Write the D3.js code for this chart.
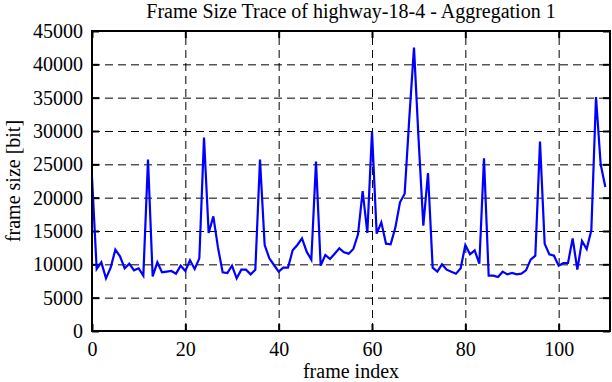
<!DOCTYPE html>
<html>
<head>
<meta charset="utf-8">
<script src="https://cdn.jsdelivr.net/npm/d3@7"></script>
<style>
  body { margin: 0; background: #fff; }
  .grid line { stroke: #000; stroke-width: 1; stroke-dasharray: 8,5; }
  .grid path { display: none; }
  .axis path { display: none; }
  .axis line { stroke: #000; stroke-width: 2; }
</style>
</head>
<body>
<div id="chart"></div>
<script>
// frame size trace, one value per frame (frame index 0..110)
var frameSizes = [
  23100, 9300, 10300, 7900, 9500, 12200, 11200, 9400, 10100, 9100,
  9400, 8300, 25700, 8200, 10300, 8800, 8900, 9000, 8600, 9800,
  9000, 10600, 9300, 10900, 29000, 14700, 17200, 12500, 8800, 8700,
  9800, 7900, 9200, 9200, 8500, 9200, 25700, 12900, 10900, 9900,
  8900, 9500, 9500, 12100, 12900, 13900, 11900, 10700, 25400, 9800,
  11400, 10800, 11600, 12400, 11800, 11600, 12300, 14500, 21000, 14700,
  29900, 14600, 16300, 13100, 13000, 15500, 19300, 20600, 32000, 42500,
  28500, 15800, 23700, 9500, 8900, 10000, 9200, 8900, 8600, 9400,
  12900, 11500, 12100, 10100, 25900, 8300, 8300, 8100, 8900, 8500,
  8700, 8500, 8600, 9100, 10700, 11300, 28400, 13100, 11500, 11300,
  9800, 10200, 10200, 13900, 9200, 13500, 12300, 15100, 35100, 25000,
  21600
];
var xTicks = [0, 20, 40, 60, 80, 100];
var yTicks = [0, 5000, 10000, 15000, 20000, 25000, 30000, 35000, 40000, 45000];

var titleText = "Frame Size Trace of highway-18-4 - Aggregation 1";
var xLabel = "frame index";
var yLabel = "frame size [bit]";

var serif = "'Liberation Serif', 'DejaVu Serif', serif";
var fontSize = "20px";

//dimensions. NB: (0,0) is top-left.
var margin = { top: 31, left: 92, right: 2, bottom: 51 };
var width = 612 - margin.left - margin.right;
var height = 382 - margin.top - margin.bottom;

var svg = d3.select("#chart")
        .append("svg")
        .attr("width", 612)
        .attr("height", 382);

var g = svg.append("g")
        .attr("transform", "translate(" + margin.left + "," + margin.top + ")");

var x = d3.scaleLinear().domain([0, 111]).range([0, width]);
var y = d3.scaleLinear().domain([0, 45000]).range([height, 0]);

//dashed grid
g.append("g")
    .attr("class", "grid")
    .attr("transform", "translate(0," + height + ")")
    .call(d3.axisBottom(x).tickValues(xTicks.slice(1)).tickSize(-height).tickFormat(""));
g.append("g")
    .attr("class", "grid")
    .call(d3.axisLeft(y).tickValues(yTicks.slice(1, -1)).tickSize(-width).tickFormat(""));

//axes with inward ticks, mirrored on top/right
g.append("g")
    .attr("class", "axis")
    .attr("transform", "translate(0," + height + ")")
    .call(d3.axisBottom(x).tickValues(xTicks).tickFormat(d3.format("d"))
            .tickSizeInner(-7).tickSizeOuter(0).tickPadding(11))
    .selectAll("text")
    .style("font-family", serif)
    .style("font-size", fontSize);

g.append("g")
    .attr("class", "axis")
    .call(d3.axisTop(x).tickValues(xTicks).tickSizeInner(-7).tickSizeOuter(0).tickFormat(""));

g.append("g")
    .attr("class", "axis")
    .call(d3.axisLeft(y).tickValues(yTicks).tickFormat(d3.format("d"))
            .tickSizeInner(-7).tickSizeOuter(0).tickPadding(9))
    .selectAll("text")
    .style("font-family", serif)
    .style("font-size", fontSize);

g.append("g")
    .attr("class", "axis")
    .attr("transform", "translate(" + width + ",0)")
    .call(d3.axisRight(y).tickValues(yTicks).tickSizeInner(-7).tickSizeOuter(0).tickFormat(""));

//the trace
var line = d3.line()
    .x(function(d, i) { return x(i); })
    .y(function(d) { return y(d); });

g.append("path")
    .datum(frameSizes)
    .attr("fill", "none")
    .attr("stroke", "#0000ff")
    .attr("stroke-width", 2.2)
    .attr("stroke-linejoin", "miter")
    .attr("d", line);

//border
g.append("rect")
    .attr("width", width)
    .attr("height", height)
    .attr("fill", "none")
    .attr("stroke", "#000")
    .attr("stroke-width", 2);

//title and axis labels
function label(sel) {
    return sel.style("font-family", serif).style("font-size", fontSize).attr("text-anchor", "middle");
}

svg.append("text")
    .attr("x", 351)
    .attr("y", 18)
    .call(label)
    .text(titleText);

svg.append("text")
    .attr("x", 351)
    .attr("y", 378)
    .call(label)
    .text(xLabel);

svg.append("text")
    .attr("transform", "translate(20," + (margin.top + height / 2) + ") rotate(-90)")
    .call(label)
    .text(yLabel);
</script>
</body>
</html>
